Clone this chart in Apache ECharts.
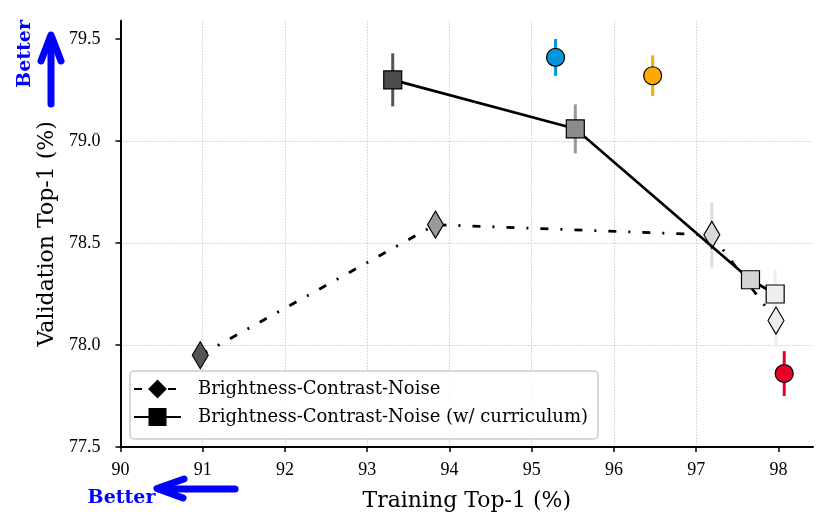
<!DOCTYPE html>
<html>
<head>
<meta charset="utf-8">
<script src="https://cdn.jsdelivr.net/npm/echarts@6/dist/echarts.min.js"></script>
<style>
	html, body {margin: 0; padding: 0; background: #fff;}
	#chart {width: 830px; height: 531px;}
</style>
</head>
<body>
<div id="chart"></div>
<script>
'use strict';
// Brightness-Contrast-Noise (diamonds, dash-dot)
var bcnX = [90.97, 93.83, 97.19, 97.97];
var bcnY = [77.95, 78.59, 78.54, 78.12];
var bcnErr = [0, 0, 0.16, 0.13];
var bcnFill = ['#555555', '#999999', '#d9d9d9', '#eeeeee'];

// Brightness-Contrast-Noise (w/ curriculum) (squares, solid)
var curX = [93.31, 95.53, 97.66, 97.96];
var curY = [79.30, 79.06, 78.32, 78.25];
var curErr = [0.13, 0.12, 0, 0.12];
var curFill = ['#4d4d4d', '#8c8c8c', '#d4d4d4', '#eeeeee'];

// single reference points (circles)
var dotX = [95.29, 96.47, 98.07];
var dotY = [79.41, 79.32, 77.86];
var dotErr = [0.09, 0.10, 0.11];
var dotFill = ['#0096db', '#ffaa00', '#e8002a'];

var xTicks = [90, 91, 92, 93, 94, 95, 96, 97, 98];
var yTicks = [77.5, 78.0, 78.5, 79.0, 79.5];

var serif = 'DejaVu Serif';
var digits = 'Liberation Serif';

function points(xs, ys, fills) {
	return xs.map(function (x, i) {
		return {value: [x, ys[i]], itemStyle: {color: fills[i]}};
	});
}

// error bars, drawn below the markers
var errRows = [], errColors = [];
function addErr(xs, ys, es, cs) {
	xs.forEach(function (x, i) {
		if (es[i] > 0) {
			errRows.push([x, ys[i], es[i]]);
			errColors.push(cs[i]);
		}
	});
}
addErr(curX, curY, curErr, ['#555555', '#999999', '#d4d4d4', '#eeeeee']);
addErr(bcnX, bcnY, bcnErr, ['#555555', '#999999', '#dddddd', '#eeeeee']);
addErr(dotX, dotY, dotErr, dotFill);

var grid = {lineStyle: {color: '#b5b5b5', width: 1, type: [1, 2]}};

var chart = echarts.init(document.getElementById('chart'));
var option = {
	animation: false,
	backgroundColor: '#fff',
	textStyle: {fontFamily: serif, color: '#000'},
	grid: {left: 120.5, right: 17, top: 20.7, bottom: 84},
	xAxis: {
		type: 'value',
		min: 90,
		max: 98.42,
		interval: 1,
		name: 'Training Top-1 (%)',
		nameLocation: 'middle',
		nameGap: 43,
		nameTextStyle: {fontSize: 22, fontFamily: serif, color: '#000'},
		axisLine: {lineStyle: {color: '#000', width: 2}},
		axisTick: {length: 5, lineStyle: {color: '#000', width: 1.5}, customValues: xTicks},
		axisLabel: {fontSize: 18, color: '#000', fontFamily: digits, margin: 14, customValues: xTicks},
		splitLine: {show: true, showMinLine: false, showMaxLine: false, lineStyle: grid.lineStyle}
	},
	yAxis: {
		type: 'value',
		min: 77.5,
		max: 79.59,
		interval: 0.5,
		name: 'Validation Top-1 (%)',
		nameLocation: 'middle',
		nameGap: 59,
		nameTextStyle: {fontSize: 22, fontFamily: serif, color: '#000'},
		axisLine: {show: true, lineStyle: {color: '#000', width: 2}},
		axisTick: {show: true, length: 5, lineStyle: {color: '#000', width: 1.5}, customValues: yTicks},
		axisLabel: {fontSize: 18, color: '#000', fontFamily: digits, margin: 20, customValues: yTicks,
			formatter: function (v) { return v.toFixed(1); }},
		splitLine: {show: true, showMinLine: false, showMaxLine: false, lineStyle: grid.lineStyle}
	},
	legend: {
		orient: 'vertical',
		left: 130,
		top: 371,
		padding: [9, 10, 13, 3],
		itemGap: 10,
		itemWidth: 47,
		itemHeight: 20,
		borderColor: '#cccccc',
		borderWidth: 1.5,
		borderRadius: 4,
		backgroundColor: 'rgba(255,255,255,0.8)',
		textStyle: {fontSize: 18, fontFamily: serif, color: '#000', padding: [0, 0, 0, 12]},
		data: ['Brightness-Contrast-Noise', 'Brightness-Contrast-Noise (w/ curriculum)']
	},
	graphic: [
		{type: 'text', x: 25, y: 54, rotation: Math.PI / 2,
			style: {text: 'Better', fill: '#0000ff', font: 'bold 19px "DejaVu Serif"', align: 'center', verticalAlign: 'middle'}},
		{type: 'polyline', shape: {points: [[51, 104], [51, 37]]},
			style: {stroke: '#0000ff', lineWidth: 7, lineCap: 'round', fill: null}},
		{type: 'polyline', shape: {points: [[41, 61], [51, 35], [61, 61]]},
			style: {stroke: '#0000ff', lineWidth: 7, lineCap: 'round', lineJoin: 'round', fill: null}},
		{type: 'text', x: 121.5, y: 498,
			style: {text: 'Better', fill: '#0000ff', font: 'bold 19px "DejaVu Serif"', align: 'center', verticalAlign: 'middle'}},
		{type: 'polyline', shape: {points: [[235, 489], [160, 489]]},
			style: {stroke: '#0000ff', lineWidth: 7, lineCap: 'round', fill: null}},
		{type: 'polyline', shape: {points: [[184, 479], [157, 488.5], [183, 498]]},
			style: {stroke: '#0000ff', lineWidth: 7, lineCap: 'round', lineJoin: 'round', fill: null}}
	],
	series: [
		{
			name: 'errors',
			type: 'custom',
			z: 1,
			data: errRows,
			encode: {x: 0, y: 1},
			renderItem: function (params, api) {
				var x = api.value(0), y = api.value(1), e = api.value(2);
				var p1 = api.coord([x, y + e]);
				var p2 = api.coord([x, y - e]);
				return {
					type: 'line',
					shape: {x1: p1[0], y1: p1[1], x2: p2[0], y2: p2[1]},
					style: {stroke: errColors[params.dataIndex], lineWidth: 3}
				};
			}
		},
		{
			name: 'Brightness-Contrast-Noise',
			type: 'line',
			z: 3,
			data: points(bcnX, bcnY, bcnFill),
			symbol: 'diamond',
			symbolSize: [16, 27],
			itemStyle: {color: '#000', borderColor: '#000', borderWidth: 1.2},
			lineStyle: {color: '#000', width: 2.8, type: [8, 12, 2, 12]}
		},
		{
			name: 'Brightness-Contrast-Noise (w/ curriculum)',
			type: 'line',
			z: 4,
			data: points(curX, curY, curFill),
			symbol: 'rect',
			symbolSize: 18,
			itemStyle: {color: '#000', borderColor: '#000', borderWidth: 1.2},
			lineStyle: {color: '#000', width: 2.7}
		},
		{
			name: 'single',
			type: 'scatter',
			z: 5,
			data: points(dotX, dotY, dotFill),
			symbol: 'circle',
			symbolSize: 18,
			itemStyle: {borderColor: '#000', borderWidth: 1.2, opacity: 1}
		}
	]
};
chart.setOption(option);
</script>
</body>
</html>
